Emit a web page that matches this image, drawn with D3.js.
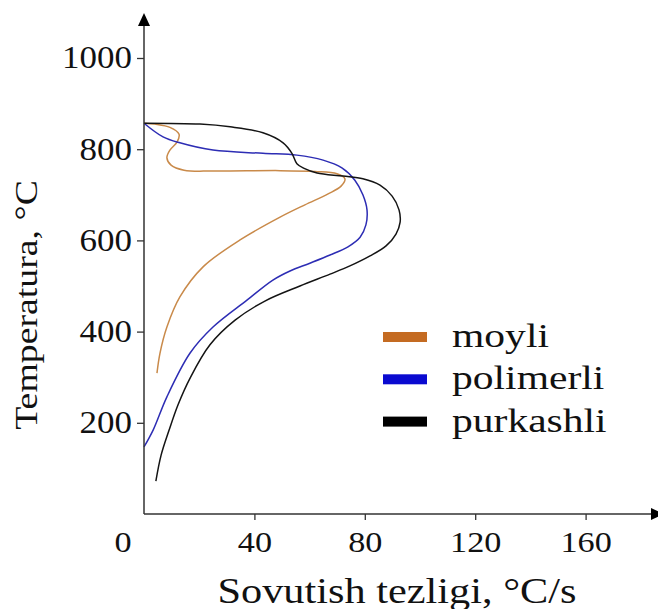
<!DOCTYPE html>
<html>
<head>
<meta charset="utf-8">
<script src="https://cdn.jsdelivr.net/npm/d3@7"></script>
<style>
  body { margin: 0; background: #fff; }
  svg { display: block; }
  text { font-family: "Liberation Serif", "Times New Roman", serif; fill: #111; }
</style>
</head>
<body>
<svg id="chart" width="658" height="609"></svg>
<script>
// series names (legend order)
var categories = ["moyli", "polimerli", "purkashli"];

// cooling rate (°C/s) and temperature (°C), in path order
var moyliRate = [0, 4, 9.4, 12.7, 12, 9.4, 8.3, 9.8, 14.5, 25, 49.3, 62, 69.9, 72.8, 71.4, 66.7, 58.3, 49.3, 34.8, 21.4, 13, 8.3, 5.8, 4.7];
var moyliTemp = [857, 855, 848, 833, 816, 798, 781, 765, 754, 752, 753, 751, 746, 735, 719, 702, 678, 651, 601, 542, 476, 410, 353, 309];

var polimerliRate = [0, 6.9, 13, 25, 43.1, 55.4, 64.9, 71.7, 76.4, 79.3, 80.8, 80.4, 78.3, 73.9, 67.4, 60.1, 52.9, 46.7, 37.3, 25, 16.7, 8.3, 3.3, 0];
var polimerliTemp = [857, 827, 814, 798, 791, 787, 776, 759, 732, 700, 667, 634, 607, 586, 568, 550, 533, 513, 469, 410, 353, 257, 184, 147];

var purkashliRate = [0, 20.3, 31.2, 43.1, 50.4, 53.6, 55.4, 58, 62.7, 72.1, 79.3, 85.5, 89.9, 92.4, 92.8, 91.3, 87.7, 81.9, 74.6, 67.4, 56.5, 43.8, 33, 23.9, 16.7, 12.3, 9.1, 6.2, 4.3];
var purkashliTemp = [857, 855, 849, 836, 814, 791, 768, 758, 748, 741, 735, 721, 697, 667, 640, 614, 588, 566, 544, 526, 500, 467, 425, 371, 298, 239, 184, 129, 72];

// axis ticks
var xTicks = [40, 80, 120, 160];
var yTicks = [200, 400, 600, 800, 1000];

var lineColors = ["#c98a4a", "#2d2db4", "#141414"];
var swatchColors = ["#c46b22", "#0a0ad0", "#000000"];

var svg = d3.select("#chart");

var x = d3.scaleLinear().domain([0, 160]).range([144, 585.6]);
var y = d3.scaleLinear().domain([0, 1000]).range([514, 58]);

var data = [
  d3.zip(moyliRate, moyliTemp),
  d3.zip(polimerliRate, polimerliTemp),
  d3.zip(purkashliRate, purkashliTemp)
];

// curves
var line = d3.line()
  .x(function (d) { return x(d[0]); })
  .y(function (d) { return y(d[1]); })
  .curve(d3.curveCatmullRom.alpha(0.5));

svg.append("g")
  .selectAll("path")
  .data(data)
  .enter()
  .append("path")
  .attr("d", line)
  .attr("fill", "none")
  .attr("stroke", function (d, i) { return lineColors[i]; })
  .attr("stroke-width", 1.5);

// axes
var axisColor = "#333";

var yAxis = svg.append("g")
  .attr("transform", "translate(" + x(0) + ",0)")
  .call(d3.axisLeft(y).tickValues(yTicks).tickSize(7).tickFormat(d3.format("d")));
yAxis.select(".domain").remove();
yAxis.selectAll("line").attr("stroke", axisColor).attr("stroke-width", 1.3);
yAxis.selectAll("text")
  .attr("font-size", 31)
  .attr("fill", "#111")
  .attr("x", -12 / 1.13)
  .attr("transform", "scale(1.13,1)");

var xAxis = svg.append("g")
  .attr("transform", "translate(0," + y(0) + ")")
  .call(d3.axisBottom(x).tickValues(xTicks).tickSize(6).tickFormat(d3.format("d")));
xAxis.select(".domain").remove();
xAxis.selectAll("line").attr("stroke", axisColor).attr("stroke-width", 1.3);
xAxis.selectAll("text")
  .attr("font-size", 29)
  .attr("fill", "#111")
  .attr("dy", null)
  .attr("y", 38)
  .attr("transform", "scale(1.18,1)");

// origin label
svg.append("text")
  .attr("transform", "translate(" + (x(0) - 21) + "," + (y(0) + 38) + ") scale(1.18,1)")
  .attr("text-anchor", "middle")
  .attr("font-size", 29)
  .text("0");

// axis lines with arrows
svg.append("line")
  .attr("x1", x(0)).attr("y1", y(0))
  .attr("x2", x(0)).attr("y2", 25)
  .attr("stroke", axisColor).attr("stroke-width", 1.5);
svg.append("path")
  .attr("d", "M" + x(0) + ",13 L" + (x(0) - 6) + ",26 L" + (x(0) + 6) + ",26 Z")
  .attr("fill", "#000");

svg.append("line")
  .attr("x1", x(0)).attr("y1", y(0))
  .attr("x2", 652).attr("y2", y(0))
  .attr("stroke", axisColor).attr("stroke-width", 1.5);
svg.append("path")
  .attr("d", "M664," + y(0) + " L651," + (y(0) - 6) + " L651," + (y(0) + 6) + " Z")
  .attr("fill", "#000");

// axis titles
svg.append("text")
  .attr("transform", "translate(397,603) scale(1.21,1)")
  .attr("text-anchor", "middle")
  .attr("font-size", 35)
  .text("Sovutish tezligi, °C/s");

svg.append("text")
  .attr("transform", "translate(37,305) rotate(-90) scale(1.22,1)")
  .attr("text-anchor", "middle")
  .attr("font-size", 31)
  .text("Temperatura, °C");

// legend
var legend = svg.append("g")
  .selectAll("g")
  .data(categories)
  .enter()
  .append("g")
  .attr("transform", function (d, i) { return "translate(383," + (337 + i * 42.3) + ")"; });

legend.append("rect")
  .attr("x", 0).attr("y", -5)
  .attr("width", 44).attr("height", 10)
  .attr("fill", function (d, i) { return swatchColors[i]; });

legend.append("text")
  .attr("transform", "translate(69,10) scale(1.26,1)")
  .attr("font-size", 33)
  .text(function (d) { return d; });
</script>
</body>
</html>
